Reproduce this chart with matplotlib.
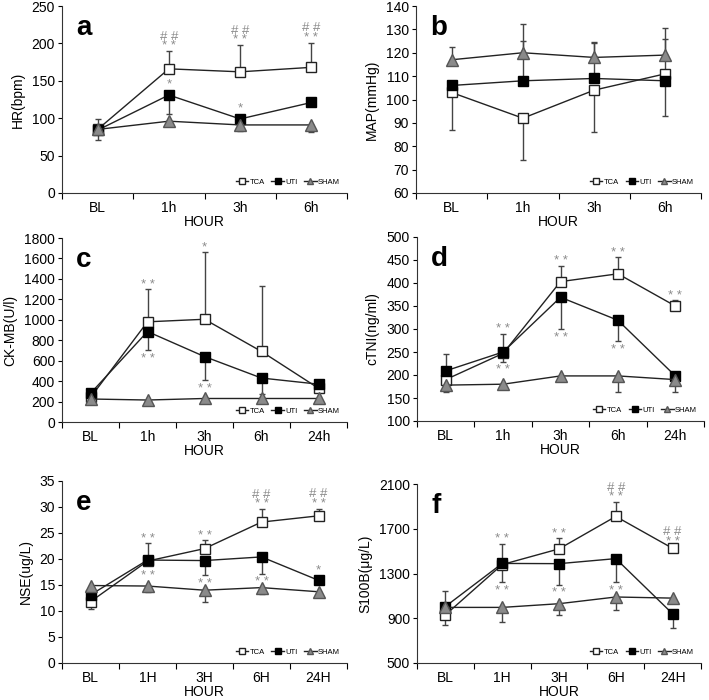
import numpy as np
import matplotlib
matplotlib.use("Agg")
import matplotlib.pyplot as plt
from matplotlib.lines import Line2D

plt.rcParams['font.family'] = ['Liberation Sans', 'DejaVu Sans']

nan = np.nan
series_names = ["TCA", "UTI", "SHAM"]

# ---------- data ----------
cats_a = ["BL", "1h", "3h", "6h"]
hr_tca = [85, 166, 162, 168]
hr_uti = [84, 131, 99, 121]
hr_sham = [85, 96, 91, 91]
hr_tca_hi = [nan, 190, 198, 201]
hr_tca_lo = [nan, nan, nan, nan]
hr_uti_hi = [99, nan, nan, nan]
hr_uti_lo = [nan, 106, nan, nan]
hr_sham_hi = [nan, nan, nan, nan]
hr_sham_lo = [71, nan, 83, 81]

map_tca = [103, 92, 104, 111]
map_uti = [106, 108, 109, 108]
map_sham = [117, 120, 118, 119]
map_tca_hi = [nan, nan, nan, 126]
map_tca_lo = [87, 74, 86, nan]
map_uti_hi = [nan, 125, 124, nan]
map_uti_lo = [nan, nan, nan, 93]
map_sham_hi = [122.5, 132.5, 124.5, 130.5]
map_sham_lo = [nan, nan, nan, nan]

cats_c = ["BL", "1h", "3h", "6h", "24h"]
ck_tca = [240, 980, 1005, 690, 330]
ck_uti = [280, 885, 640, 430, 370]
ck_sham = [225, 215, 230, 230, 230]
ck_tca_hi = [nan, 1300, 1665, 1330, nan]
ck_tca_lo = [nan, nan, nan, nan, nan]
ck_uti_hi = [320, nan, nan, nan, 410]
ck_uti_lo = [nan, 700, 410, 270, 330]
ck_sham_hi = [nan, nan, nan, nan, nan]
ck_sham_lo = [nan, nan, nan, nan, nan]

tn_tca = [190, 247, 403, 420, 350]
tn_uti = [209, 250, 369, 319, 198]
tn_sham = [178, 180, 198, 198, 190]
tn_tca_hi = [nan, 289, 437, 456, 362]
tn_tca_lo = [nan, 229, nan, nan, nan]
tn_uti_hi = [246, nan, nan, nan, nan]
tn_uti_lo = [nan, nan, 300, 274, nan]
tn_sham_hi = [nan, nan, nan, nan, nan]
tn_sham_lo = [164, nan, 190, 164, 164]

cats_e = ["BL", "1H", "3H", "6H", "24H"]
nse_tca = [11.8, 19.6, 22.0, 27.1, 28.3]
nse_uti = [13.1, 19.8, 19.7, 20.4, 15.9]
nse_sham = [14.9, 14.8, 14.0, 14.5, 13.7]
nse_tca_hi = [nan, nan, 23.6, 29.6, 29.7]
nse_tca_lo = [10.4, nan, nan, nan, nan]
nse_uti_hi = [nan, 23.0, nan, nan, nan]
nse_uti_lo = [nan, nan, 16.9, 17.2, nan]
nse_sham_hi = [nan, nan, nan, nan, nan]
nse_sham_lo = [nan, 13.6, 11.8, 13.2, 12.6]

s1_tca = [930, 1380, 1520, 1810, 1525]
s1_uti = [1005, 1390, 1388, 1433, 940]
s1_sham = [997, 997, 1030, 1090, 1080]
s1_tca_hi = [nan, nan, 1615, 1940, 1540]
s1_tca_lo = [840, nan, nan, nan, nan]
s1_uti_hi = [1140, 1565, nan, nan, nan]
s1_uti_lo = [nan, 1220, 1200, 1220, 815]
s1_sham_hi = [nan, nan, nan, nan, nan]
s1_sham_lo = [nan, 870, 925, 970, nan]

# significance marks: (category index, series anchored, side, text)
sig_a = [(1, "TCA", "up", "# #\n* *"), (2, "TCA", "up", "# #\n* *"), (3, "TCA", "up", "# #\n* *"),
         (1, "UTI", "upm", "*"), (2, "UTI", "upm", "*")]
sig_b = []
sig_c = [(1, "TCA", "up", "* *"), (1, "UTI", "down", "* *"), (2, "TCA", "up", "*"),
         (2, "UTI", "down", "* *")]
sig_d = [(1, "TCA", "up", "* *"), (1, "TCA", "down", "* *"), (2, "TCA", "up", "* *"),
         (2, "UTI", "down", "* *"), (3, "TCA", "up", "* *"), (3, "UTI", "down", "* *"),
         (4, "TCA", "up", "* *")]
sig_e = [(1, "UTI", "up", "* *"), (1, "SHAM", "upm", "* *"), (2, "TCA", "up", "* *"),
         (2, "UTI", "down", "* *"), (3, "TCA", "up", "# #\n* *"), (3, "UTI", "down", "* *"),
         (4, "TCA", "up", "# #\n* *"), (4, "UTI", "upm", "*")]
sig_f = [(1, "UTI", "up", "* *"), (1, "UTI", "down", "* *"), (2, "TCA", "up", "* *"),
         (2, "UTI", "down", "* *"), (3, "TCA", "up", "# #\n* *"), (3, "UTI", "down", "* *"),
         (4, "TCA", "up", "# #\n* *")]

panels = [
    dict(letter="a", cats=cats_a, ylabel="HR(bpm)", ylim=(0, 250), yt=np.arange(0, 251, 50),
         vals=[hr_tca, hr_uti, hr_sham], his=[hr_tca_hi, hr_uti_hi, hr_sham_hi], los=[hr_tca_lo, hr_uti_lo, hr_sham_lo],
         sig=sig_a, rect=[62, 6, 347, 193]),
    dict(letter="b", cats=cats_a, ylabel="MAP(mmHg)", ylim=(60, 140), yt=np.arange(60, 141, 10),
         vals=[map_tca, map_uti, map_sham], his=[map_tca_hi, map_uti_hi, map_sham_hi], los=[map_tca_lo, map_uti_lo, map_sham_lo],
         sig=sig_b, rect=[416, 6, 701, 193]),
    dict(letter="c", cats=cats_c, ylabel="CK-MB(U/l)", ylim=(0, 1800), yt=np.arange(0, 1801, 200),
         vals=[ck_tca, ck_uti, ck_sham], his=[ck_tca_hi, ck_uti_hi, ck_sham_hi], los=[ck_tca_lo, ck_uti_lo, ck_sham_lo],
         sig=sig_c, rect=[62, 238, 347, 422]),
    dict(letter="d", cats=cats_c, ylabel="cTNI(ng/ml)", ylim=(100, 500), yt=np.arange(100, 501, 50),
         vals=[tn_tca, tn_uti, tn_sham], his=[tn_tca_hi, tn_uti_hi, tn_sham_hi], los=[tn_tca_lo, tn_uti_lo, tn_sham_lo],
         sig=sig_d, rect=[417, 237, 704, 421]),
    dict(letter="e", cats=cats_e, ylabel="NSE(ug/L)", ylim=(0, 35), yt=np.arange(0, 36, 5),
         vals=[nse_tca, nse_uti, nse_sham], his=[nse_tca_hi, nse_uti_hi, nse_sham_hi], los=[nse_tca_lo, nse_uti_lo, nse_sham_lo],
         sig=sig_e, rect=[62, 481, 347, 663]),
    dict(letter="f", cats=cats_e, ylabel="S100B(μg/L)", ylim=(500, 2100), yt=np.arange(500, 2101, 400),
         vals=[s1_tca, s1_uti, s1_sham], his=[s1_tca_hi, s1_uti_hi, s1_sham_hi], los=[s1_tca_lo, s1_uti_lo, s1_sham_lo],
         sig=sig_f, rect=[417, 484, 701, 663]),
]

W, H = 709, 700
fig = plt.figure(figsize=(W / 100, H / 100), dpi=100)

styles = {
    "TCA": dict(marker="s", mfc="white", mec="#222222", ms=7.5),
    "UTI": dict(marker="s", mfc="black", mec="black", ms=7.5),
    "SHAM": dict(marker="^", mfc="#8a8a8a", mec="#555555", ms=8),
}
star_col = "#8c8c8c"

for p in panels:
    l, t, r, b = p["rect"]
    ax = fig.add_axes([l / W, 1 - b / H, (r - l) / W, (b - t) / H])
    n = len(p["cats"])
    x = np.arange(n) + 0.5
    for k, name in enumerate(series_names):
        y = np.array(p["vals"][k], float)
        hi = np.array(p["his"][k], float)
        lo = np.array(p["los"][k], float)
        m = ~np.isnan(hi)
        if m.any():
            ax.errorbar(x[m], y[m], yerr=[np.zeros(m.sum()), hi[m] - y[m]], fmt="none",
                        ecolor="#444444", elinewidth=1, capsize=2.5, capthick=1, zorder=1)
        m = ~np.isnan(lo)
        if m.any():
            ax.errorbar(x[m], y[m], yerr=[y[m] - lo[m], np.zeros(m.sum())], fmt="none",
                        ecolor="#444444", elinewidth=1, capsize=2.5, capthick=1, zorder=1)
    for k, name in enumerate(series_names):
        ax.plot(x, p["vals"][k], color="#222222", lw=1, zorder=3 + k, label=name, **styles[name])

    # significance marks
    for (i, sname, side, txt) in p["sig"]:
        k = series_names.index(sname)
        yv = p["vals"][k][i]
        if side in ("up", "upm"):
            hv = p["his"][k][i]
            if side == "up" and not np.isnan(hv):
                base, off = hv, -1
            else:
                base, off = yv, 3
            ax.annotate(txt, (x[i], base), xytext=(0, off), textcoords="offset points",
                        ha="center", va="bottom", fontsize=9.5, color=star_col,
                        linespacing=0.75, multialignment="center")
        else:
            lv = p["los"][k][i]
            base = lv if not np.isnan(lv) else yv
            ax.annotate(txt, (x[i], base), xytext=(0, -2), textcoords="offset points",
                        ha="center", va="top", fontsize=9.5, color=star_col)

    ax.set_xlim(0, n)
    ax.set_ylim(*p["ylim"])
    ax.set_yticks(p["yt"])
    ax.set_xticks(np.arange(n + 1))
    ax.set_xticklabels([])
    ax.set_xticks(x, minor=True)
    ax.set_xticklabels(p["cats"], minor=True)
    ax.tick_params(axis="x", which="minor", length=0, pad=6, labelsize=10)
    ax.tick_params(axis="x", which="major", length=4, direction="out")
    ax.tick_params(axis="y", length=3, direction="out", labelsize=10, pad=2)
    for s in ["top", "right"]:
        ax.spines[s].set_visible(False)
    for s in ["left", "bottom"]:
        ax.spines[s].set_color("#333333")
        ax.spines[s].set_linewidth(0.8)
    ax.set_xlabel("HOUR", fontsize=10, labelpad=0)
    ax.set_ylabel(p["ylabel"], fontsize=10, labelpad=5)
    ax.text(0.05, 0.95, p["letter"], transform=ax.transAxes, fontsize=20, fontweight="bold",
            ha="left", va="top")

    handles = [Line2D([], [], color="#222222", lw=1, marker=styles[nm]["marker"], mfc=styles[nm]["mfc"],
                      mec=styles[nm]["mec"], ms=4) for nm in series_names]
    ax.legend(handles, series_names, loc="lower right", ncol=3, fontsize=5.5, frameon=False,
              handlelength=1.6, handletextpad=0.2, columnspacing=0.9, borderaxespad=0.5)

fig.savefig("out.png", dpi=100)
